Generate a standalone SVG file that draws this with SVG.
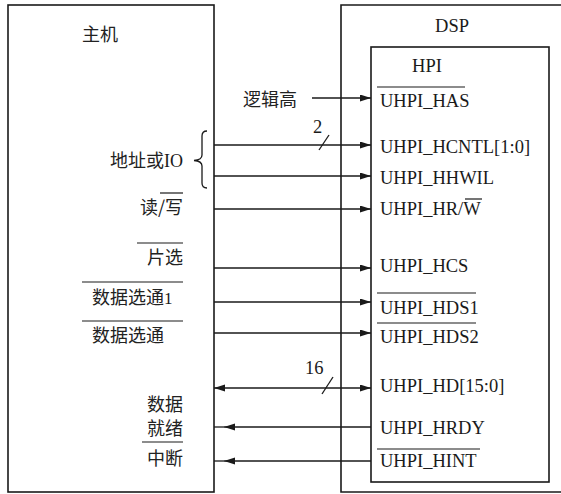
<svg xmlns="http://www.w3.org/2000/svg" width="561" height="494" viewBox="0 0 561 494">
<style>
.box{fill:none;stroke:#1a1a1a;stroke-width:1.6}
.ln{fill:none;stroke:#1a1a1a;stroke-width:1.3}
.ol{stroke:#1a1a1a;stroke-width:1.2}
.lat{font-family:"Liberation Serif","Times New Roman",serif;font-size:18.5px;fill:#1a1a1a}
.cjk{font-family:"Noto Sans CJK SC","Noto Sans",sans-serif;font-size:18px;fill:#222}
.end{text-anchor:end}
</style>
<defs>
<marker id="ah" markerUnits="userSpaceOnUse" markerWidth="12" markerHeight="8" refX="11" refY="3.5" orient="auto-start-reverse">
<path d="M0,0 L11,3.5 L0,7 z" fill="#1a1a1a"/>
</marker>
</defs>
<rect width="561" height="494" fill="#fff"/>

<g id="host">
<rect class="box" x="8" y="5" width="206" height="487"/>
<text class="cjk" x="82" y="41">主机</text>
</g>

<g id="dsp">
<path class="box" d="M563 5 H341 V492 H563"/>
<text class="lat" x="452" y="32" text-anchor="middle">DSP</text>
</g>

<g id="hpi">
<rect class="box" x="371" y="47" width="178" height="435"/>
<text class="lat" x="427" y="72" text-anchor="middle">HPI</text>
<text class="lat" x="380" y="107">UHPI_HAS</text>
<line class="ol" x1="377" y1="87" x2="465" y2="87"/>
<text class="lat" x="380" y="153">UHPI_HCNTL[1:0]</text>
<text class="lat" x="380" y="184">UHPI_HHWIL</text>
<text class="lat" x="380" y="215">UHPI_HR/W</text>
<line class="ol" x1="465" y1="199" x2="482" y2="199"/>
<text class="lat" x="380" y="272">UHPI_HCS</text>
<text class="lat" x="380" y="314">UHPI_HDS1</text>
<line class="ol" x1="377" y1="293" x2="476" y2="293"/>
<text class="lat" x="380" y="343">UHPI_HDS2</text>
<line class="ol" x1="377" y1="323" x2="476" y2="323"/>
<text class="lat" x="380" y="392">UHPI_HD[15:0]</text>
<text class="lat" x="380" y="434">UHPI_HRDY</text>
<text class="lat" x="380" y="467">UHPI_HINT</text>
<line class="ol" x1="377" y1="449" x2="480" y2="449"/>
</g>

<g id="host-labels">
<text class="cjk" x="243" y="106">逻辑高</text>
<text class="cjk end" x="183" y="167">地址或<tspan class="lat" style="font-size:18px">IO</tspan></text>
<path class="ln" d="M207 131 Q202 131 202 136 V155 Q202 160 194 160.5 Q202 161 202 166 V183 Q202 188 207 188"/>
<text class="cjk end" x="183" y="214">读/写</text>
<line class="ol" x1="160" y1="193" x2="183" y2="193"/>
<text class="cjk end" x="183" y="264">片选</text>
<line class="ol" x1="137" y1="243" x2="183" y2="243"/>
<text class="cjk" x="92" y="304">数据选通<tspan class="lat" style="font-size:17px">1</tspan></text>
<line class="ol" x1="82" y1="282" x2="183" y2="282"/>
<text class="cjk" x="92" y="342">数据选通</text>
<line class="ol" x1="82" y1="321" x2="183" y2="321"/>
<text class="cjk end" x="183" y="411">数据</text>
<text class="cjk end" x="183" y="435">就绪</text>
<line class="ol" x1="142" y1="442" x2="183" y2="442"/>
<text class="cjk end" x="183" y="465">中断</text>
</g>

<g id="connectors">
<line class="ln" x1="312" y1="98" x2="371" y2="98" marker-end="url(#ah)"/>
<line class="ln" x1="214" y1="145" x2="371" y2="145" marker-end="url(#ah)"/>
<line class="ln" x1="319" y1="150" x2="329" y2="135"/>
<text class="lat" x="313" y="133">2</text>
<line class="ln" x1="214" y1="176" x2="371" y2="176" marker-end="url(#ah)"/>
<line class="ln" x1="214" y1="209" x2="371" y2="209" marker-end="url(#ah)"/>
<line class="ln" x1="214" y1="268" x2="371" y2="268" marker-end="url(#ah)"/>
<line class="ln" x1="214" y1="302" x2="371" y2="302" marker-end="url(#ah)"/>
<line class="ln" x1="214" y1="333" x2="371" y2="333" marker-end="url(#ah)"/>
<line class="ln" x1="214" y1="388" x2="371" y2="388" marker-start="url(#ah)" marker-end="url(#ah)"/>
<line class="ln" x1="322" y1="394" x2="333" y2="377"/>
<text class="lat" x="305" y="374">16</text>
<line class="ln" x1="371" y1="427" x2="224" y2="427" marker-end="url(#ah)"/>
<line class="ln" x1="224" y1="427" x2="214" y2="427"/>
<line class="ln" x1="371" y1="461" x2="224" y2="461" marker-end="url(#ah)"/>
<line class="ln" x1="224" y1="461" x2="214" y2="461"/>
</g>
</svg>
